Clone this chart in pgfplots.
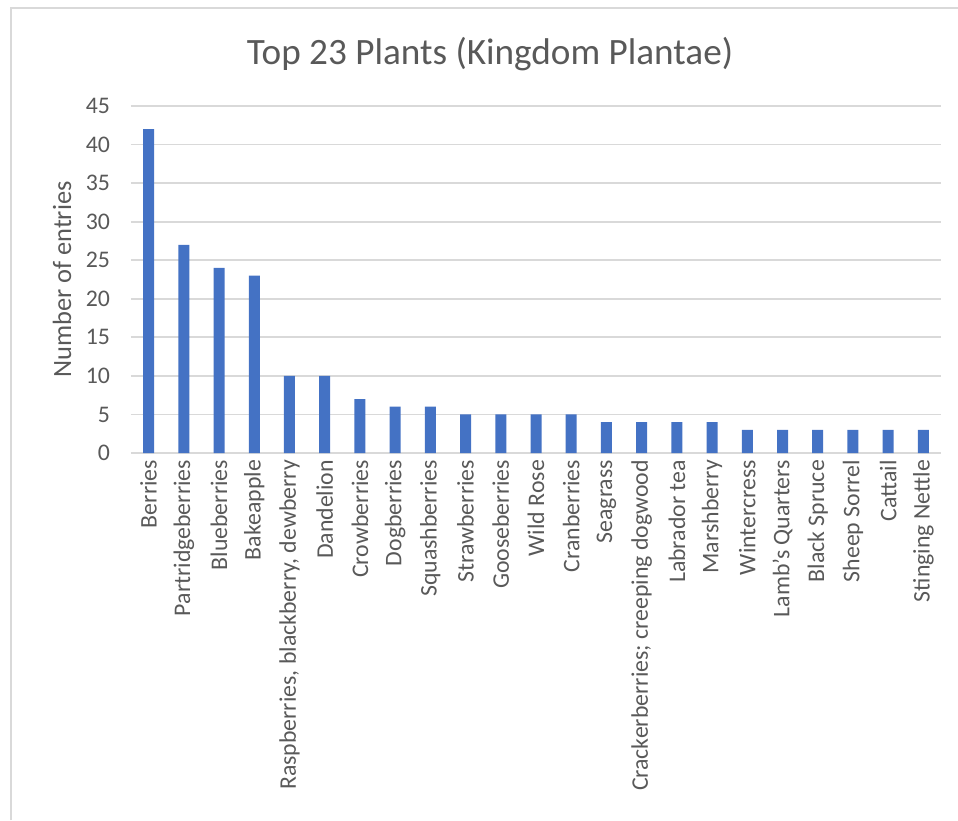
\documentclass[border=0pt]{standalone}
\usepackage{pgfplots}
\pgfplotsset{compat=1.18}
\usepackage{fontspec}
\setmainfont{Carlito}
\definecolor{barblue}{HTML}{4472C4}
\definecolor{txt}{HTML}{595959}
\definecolor{gridgray}{HTML}{D9D9D9}
\begin{document}
\begin{tikzpicture}
\path[use as bounding box] (0pt,0pt) rectangle (479pt,-410pt);
\draw[gridgray, line width=0.9pt] (5.4pt,-410pt) -- (5.4pt,-3.8pt) -- (479pt,-3.8pt);
\node[font=\fontsize{18.6}{22}\selectfont, text=txt] at (245pt,-27pt) {Top 23 Plants (Kingdom Plantae)};
\begin{axis}[
  at={(65.5pt,-226.5pt)}, anchor=south west,
  scale only axis, width=405pt, height=173.5pt,
  ybar, bar width=5.5pt,
  xmin=-0.5, xmax=22.5, ymin=0, ymax=45,
  ytick={0,5,...,45},
  xtick=data,
  xticklabels={Berries, Partridgeberries, Blueberries, Bakeapple, {Raspberries, blackberry, dewberry}, Dandelion, Crowberries, Dogberries, Squashberries, Strawberries, Gooseberries, Wild Rose, Cranberries, Seagrass, {Crackerberries; creeping dogwood}, Labrador tea, Marshberry, Wintercress, Lamb's Quarters, Black Spruce, Sheep Sorrel, Cattail, Stinging Nettle},
  xticklabel style={rotate=90, anchor=east, font=\fontsize{11.9}{14}\selectfont, text=txt},
  yticklabel style={font=\fontsize{11.9}{14}\selectfont, text=txt, xshift=-7pt},
  /pgf/number format/assume math mode=true,
  major tick length=0pt,
  axis line style={draw=none},
  ymajorgrids, xmajorgrids=false, grid style={draw=gridgray, line width=0.9pt},
  ylabel={Number of entries},
  ylabel style={at={(axis description cs:-0.0852,0.5)}, anchor=center, font=\fontsize{13.2}{16}\selectfont, text=txt},
]
\addplot[fill=barblue, draw=none] coordinates {
(0,42) (1,27) (2,24) (3,23) (4,10) (5,10) (6,7) (7,6) (8,6) (9,5) (10,5) (11,5) (12,5) (13,4) (14,4) (15,4) (16,4) (17,3) (18,3) (19,3) (20,3) (21,3) (22,3)
};
\end{axis}
\end{tikzpicture}
\end{document}
